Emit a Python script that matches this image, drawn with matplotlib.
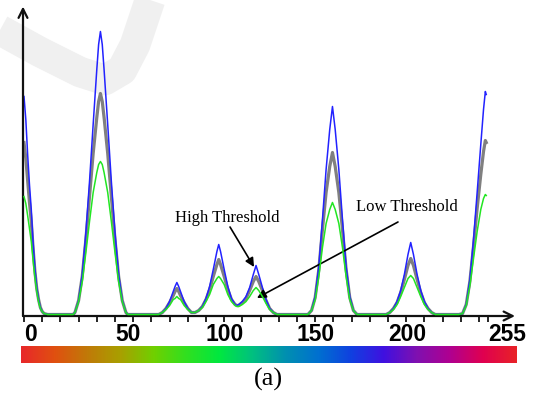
import numpy as np
import matplotlib
matplotlib.use('Agg')
import matplotlib.pyplot as plt
from matplotlib.colors import LinearSegmentedColormap
from matplotlib.lines import Line2D

hue = [0, 1, 2, 3, 4, 5, 6, 7, 8, 9, 10, 11, 13,
       27, 28, 30, 32, 34, 36, 38, 40, 41, 42, 43, 44, 46, 48, 50, 52, 54, 56, 57,
       74, 76, 78, 80, 82, 83, 84, 85, 86, 88, 90, 92, 94,
       96, 98, 100, 102, 104, 106, 107, 108, 110, 112, 114, 116, 117,
       118, 120, 122, 124, 126, 127.5, 129, 131, 133, 135, 137, 139,
       156, 158, 160, 162, 164, 166, 168, 169.5, 171, 173, 175, 177, 179, 181, 183,
       199, 201, 203, 205, 207, 209, 211, 212.5, 214, 216, 218, 220, 222, 224, 226,
       239, 241, 243, 245, 247, 249, 251, 252.5, 253.5, 254]

blue = [218, 195, 160, 130, 105, 72, 46, 27, 15, 7, 3, 1, 0,
        0, 2, 14, 40, 82, 133, 190, 245, 270, 283, 270, 245, 190, 133, 82, 40, 14, 2, 0,
        0, 2, 6, 13, 23, 28, 32, 28, 23, 13, 6, 2, 2,
        4, 8, 16, 28, 45, 63, 70, 63, 45, 28, 16, 10, 9,
        10, 13, 18, 27, 40, 49, 40, 27, 15, 6, 2, 0,
        0, 4, 18, 48, 95, 145, 185, 208, 185, 145, 95, 48, 18, 4, 0,
        0, 2, 6, 13, 24, 40, 60, 72, 60, 40, 24, 13, 6, 2, 0,
        0, 1, 10, 35, 75, 122, 170, 205, 223, 220]

gray = [172, 156, 134, 112, 93, 66, 43, 26, 15, 7, 3, 1, 0,
        0, 2, 14, 38, 75, 118, 161, 197, 213, 221, 213, 197, 161, 118, 75, 38, 14, 2, 0,
        0, 2, 6, 12, 19, 23, 26, 23, 19, 12, 6, 2, 2,
        4, 8, 15, 25, 38, 50, 55, 50, 38, 25, 15, 10, 9,
        9, 12, 16, 24, 33, 38, 33, 24, 14, 6, 2, 0,
        0, 4, 17, 45, 85, 122, 148, 162, 148, 122, 85, 45, 17, 4, 0,
        0, 2, 6, 12, 22, 35, 49, 56, 49, 35, 22, 12, 6, 2, 0,
        0, 1, 10, 33, 68, 106, 140, 163, 174, 172]

green = [118, 111, 99, 86, 73, 54, 37, 23, 13, 6, 3, 1, 0,
         0, 2, 13, 33, 62, 93, 122, 142, 150, 153, 150, 142, 122, 93, 62, 33, 13, 2, 0,
         0, 2, 5, 9, 15, 16, 18, 16, 15, 9, 5, 2, 2,
         4, 7, 13, 20, 30, 36, 38, 36, 30, 20, 13, 9, 8,
         8, 10, 13, 18, 24, 27, 24, 18, 11, 5, 2, 0,
         0, 4, 15, 38, 67, 91, 105, 112, 105, 91, 67, 38, 15, 4, 0,
         0, 2, 5, 10, 18, 27, 36, 39, 36, 27, 18, 10, 5, 2, 0,
         0, 1, 9, 29, 56, 83, 105, 116, 120, 119]

tick_values = [0, 50, 100, 150, 200, 255]
tick_labels = ['0', '50', '100', '150', '200', '255']

# hue bar colours, left to right
bar_colors = ['#e8282a', '#e05010', '#c07a08', '#a8a000', '#70d000', '#30e020',
              '#00e840', '#00c080', '#0090b0', '#0070d0', '#1040e0', '#4010e0',
              '#8010b0', '#b00090', '#e00050', '#e82228']

W, H = 535, 394
fig = plt.figure(figsize=(W / 100, H / 100), dpi=100)

# faint watermark swoosh in the background
wm_x = [0, 40, 80, 105, 122, 135, 150]
wm_y = [30, 52, 72, 80, 70, 45, 0]
fig.add_artist(Line2D([x / W for x in wm_x], [1 - y / H for y in wm_y],
                      color='#f0f0f0', lw=22, solid_capstyle='butt', zorder=0))

# main plot, axes placed in pixels
x0, x1 = 23, 515
y_top, y_base = 6.5, 316
ax = fig.add_axes([x0 / W, (H - y_base) / H, (x1 - x0) / W, (y_base - y_top) / H])
ax.patch.set_alpha(0)
ax.set_xlim(-0.55, 269.8)
ax.set_ylim(-1.5, 308)

ax.plot(hue, gray, color='#808080', lw=2.3, zorder=2)
ax.plot(hue, blue, color='#2222ff', lw=1.1, zorder=3)
ax.plot(hue, green, color='#22e622', lw=1.1, zorder=4)

for s in ax.spines.values():
    s.set_visible(False)

# axis lines with open arrow heads
arrow = dict(arrowstyle='->', lw=1.6, color='#111111', mutation_scale=16,
             shrinkA=0, shrinkB=0)
ax.annotate('', xy=(0, 1), xytext=(0, 0), xycoords='axes fraction', arrowprops=arrow)
ax.annotate('', xy=(1, 0), xytext=(0, 0), xycoords='axes fraction', arrowprops=arrow)

ax.set_yticks([])
ax.set_xticks(tick_values)
ax.set_xticklabels(tick_labels, fontfamily='Liberation Sans', fontweight='bold',
                   fontsize=16.5)
for lab in ax.get_xticklabels():
    lab.set_horizontalalignment('left')
ax.set_xticks(np.arange(0, 260, 10), minor=True)
ax.tick_params(axis='x', which='both', direction='out', length=4, width=1.2,
               color='black', pad=1)

# annotations
serif = ['Liberation Serif', 'DejaVu Serif']
ax.text(111.8, 96.5, 'High Threshold', ha='center', va='center',
        fontsize=12, family=serif)
ax.text(210.4, 107.5, 'Low Threshold', ha='center', va='center',
        fontsize=12, family=serif)
head = dict(arrowstyle='-|>', lw=1.2, color='black', mutation_scale=13,
            shrinkA=0, shrinkB=0)
ax.annotate('', xy=(126.4, 47.5), xytext=(113.2, 87.5), arrowprops=head)
ax.annotate('', xy=(128.0, 16.5), xytext=(205.5, 92.5), arrowprops=head)

# hue colour bar under the axis
cax = fig.add_axes([21 / W, (H - 363) / H, 496 / W, 17 / H])
cmap = LinearSegmentedColormap.from_list('hue_bar', bar_colors)
cax.imshow(np.linspace(0, 1, 512)[None, :], aspect='auto', cmap=cmap)
cax.set_axis_off()

fig.text(268 / W, 1 - 379 / H, '(a)', ha='center', va='center', fontsize=19,
         family=serif)

fig.savefig('out.png', dpi=100)
